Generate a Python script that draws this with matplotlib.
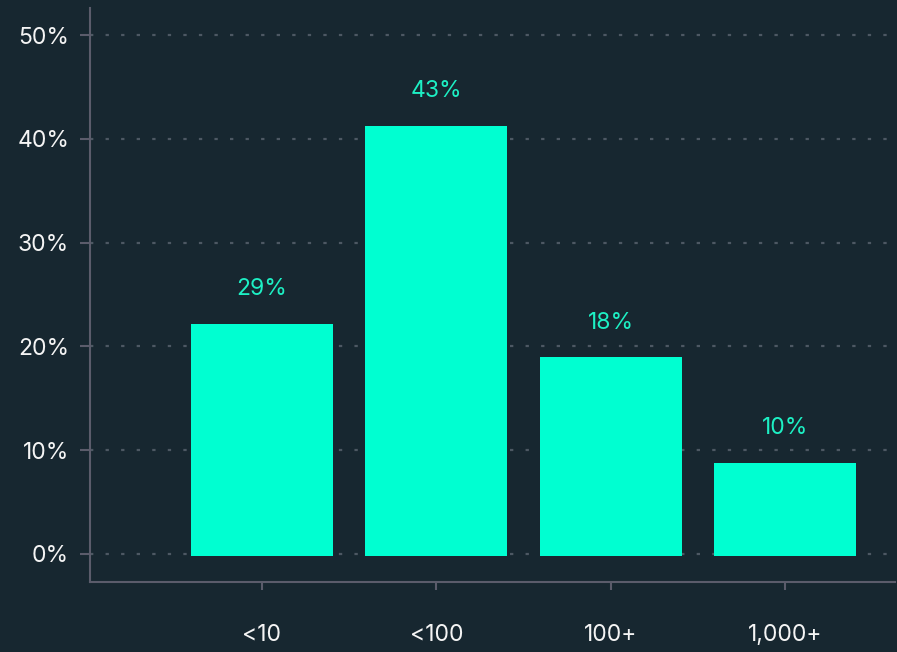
import matplotlib.pyplot as plt
from matplotlib.ticker import FuncFormatter

# data
categories = ["<10", "<100", "100+", "1,000+"]
bar_values = [22.3, 41.4, 19.1, 8.9]
bar_labels = ["29%", "43%", "18%", "10%"]
y_ticks = [0, 10, 20, 30, 40, 50]

bg = "#172730"
bar_color = "#00FFD1"
label_color = "#1DF0C4"
axis_color = "#5B5C6B"
grid_color = "#4D5863"
text_color = "#F4F4F4"

plt.rcParams['font.family'] = ['Inter', 'DejaVu Sans']

fig = plt.figure(figsize=(8.97, 6.52), dpi=100, facecolor=bg)
ax = fig.add_axes([0.1003, 0.1074, 0.8975, 0.8803], facecolor=bg)

x = range(len(categories))
ax.bar(x, bar_values, width=0.814, bottom=-0.15, color=bar_color, zorder=3)

for i, (v, lab) in enumerate(zip(bar_values, bar_labels)):
    ax.text(i, v + 3.2, lab, ha='center', va='center', color=label_color,
            fontsize=16.5, zorder=4)

ax.set_xlim(-0.986, 3.63)
ax.set_ylim(-2.7, 52.6)
ax.set_yticks(y_ticks)
ax.yaxis.set_major_formatter(FuncFormatter(lambda v, p: f"{v:.0f}%"))
ax.set_xticks(list(x))
ax.set_xticklabels(categories)

ax.grid(axis='y', color=grid_color, linewidth=1.6, linestyle=(0, (1.5, 5.5)), zorder=0)
ax.grid(axis='x', visible=False)

for side in ['top', 'right']:
    ax.spines[side].set_visible(False)
for side in ['left', 'bottom']:
    ax.spines[side].set_color(axis_color)
    ax.spines[side].set_linewidth(1.5)

ax.tick_params(axis='y', colors=axis_color, length=7, width=1.5, pad=8,
               labelcolor=text_color, labelsize=16.5)
ax.tick_params(axis='x', colors=axis_color, length=6, width=1.5, pad=24,
               labelcolor=text_color, labelsize=16.5)

fig.savefig("out.png", dpi=100, facecolor=bg)
